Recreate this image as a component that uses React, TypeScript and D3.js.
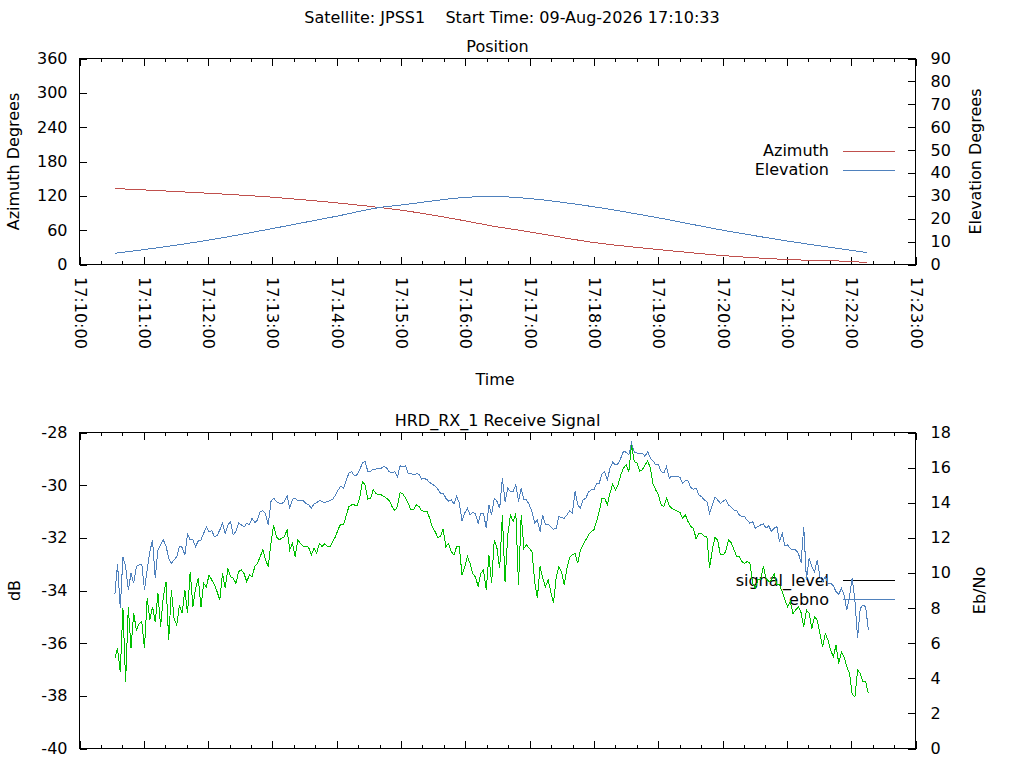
import React from "react";
import * as d3 from "d3";

// ---------- data ----------
const mainTitle = "Satellite: JPSS1    Start Time: 09-Aug-2026 17:10:33";
const topTitle = "Position";
const bottomTitle = "HRD_RX_1 Receive Signal";

// position samples: seconds after 17:10:00
const posSeconds = [33, 60, 120, 180, 240, 280, 300, 360, 383, 420, 480, 540, 600, 660, 720, 735];
const azimuth = [132.8, 130.4, 124.6, 117.6, 107.7, 99.6, 94.9, 76.2, 68, 57, 38.4, 26.2, 15.7, 8.7, 5.2, 3.5];
const elevation = [4.9, 6.5, 10.6, 15.7, 21.1, 24.9, 26.0, 29.3, 29.8, 28.8, 25.2, 20.4, 15.0, 10.3, 6.2, 5.2];

// receive signal samples: uniform sampling from 17:10:33 to 17:22:16
const sigStartSec = 33;
const sigEndSec = 736;

const signalLevel = [
  -36.58, -36.20, -37.11, -34.68, -37.47, -34.62, -36.20, -34.87, -35.50, -35.25,
  -35.19, -36.20, -34.30, -35.12, -34.62, -35.19, -34.11, -35.38, -34.24, -33.67,
  -35.88, -33.98, -35.06, -35.31, -34.55, -34.87, -33.98, -34.87, -33.28, -34.62,
  -33.92, -33.54, -34.62, -33.73, -33.86, -33.41, -33.60, -33.79, -34.05, -34.36,
  -33.35, -33.92, -33.16, -33.47, -33.54, -33.73, -33.28, -33.22, -33.35, -33.67,
  -33.41, -33.47, -33.09, -32.97, -32.71, -32.46, -32.84, -33.09, -32.21, -31.51,
  -31.95, -32.08, -32.02, -31.95, -31.70, -32.46, -32.21, -32.71, -32.08, -32.21,
  -32.33, -32.33, -32.36, -32.65, -32.40, -32.59, -32.21, -32.33, -32.23, -32.33,
  -32.33, -32.14, -31.95, -31.67, -31.47, -31.51, -31.13, -30.81, -30.75, -30.75,
  -30.79, -30.46, -29.86, -29.99, -30.53, -30.50, -30.18, -30.31, -30.37, -30.37,
  -30.43, -30.50, -30.59, -30.81, -30.97, -30.81, -30.28, -30.33, -30.49, -30.69,
  -30.94, -30.94, -30.75, -30.81, -30.97, -31.00, -31.00, -31.26, -31.60, -31.76,
  -31.98, -31.95, -31.67, -32.33, -32.21, -32.52, -32.65, -32.33, -32.33, -33.41,
  -33.10, -32.71, -32.97, -33.37, -33.48, -33.85, -33.35, -33.22, -33.98, -32.65,
  -33.73, -32.08, -32.40, -33.16, -31.13, -33.66, -31.89, -31.13, -31.38, -31.07,
  -33.79, -31.13, -32.40, -32.27, -32.40, -32.52, -33.66, -34.30, -33.09, -33.54,
  -33.86, -33.60, -34.05, -34.49, -33.51, -33.09, -33.29, -33.79, -33.16, -32.75,
  -32.65, -32.59, -32.97, -32.46, -32.27, -32.08, -31.89, -31.76, -31.70, -31.38,
  -31.00, -30.52, -30.49, -30.75, -30.30, -29.96, -30.18, -29.99, -29.61, -29.35,
  -29.23, -29.48, -28.47, -29.10, -29.16, -29.46, -29.42, -29.23, -29.08, -29.35,
  -29.96, -30.18, -30.37, -30.75, -30.81, -30.49, -30.78, -30.88, -30.94, -30.98,
  -31.04, -31.26, -31.13, -31.38, -31.57, -31.64, -32.04, -31.83, -31.83, -31.95,
  -31.95, -33.16, -32.46, -31.98, -32.08, -32.65, -32.65, -32.52, -32.08, -32.18,
  -32.43, -32.69, -32.71, -32.90, -32.97, -32.90, -32.97, -33.73, -33.92, -33.58,
  -33.60, -33.09, -33.54, -33.66, -33.60, -33.35, -33.79, -33.79, -34.05, -34.36,
  -34.62, -34.42, -34.87, -34.74, -34.62, -34.84, -35.38, -34.74, -34.87, -35.44,
  -35.00, -35.12, -35.63, -36.14, -35.63, -35.88, -36.26, -36.52, -36.07, -36.77,
  -36.33, -36.52, -36.90, -37.15, -37.95, -38.04, -37.02, -37.15, -37.45, -37.47,
  -37.90,
];

const ebno = [
  8.78, 10.51, 7.99, 10.93, 10.36, 9.03, 9.98, 9.41, 10.36, 10.46,
  10.51, 9.03, 10.17, 11.22, 11.88, 9.70, 11.31, 11.60, 11.88, 11.54,
  10.84, 10.55, 10.74, 10.93, 11.50, 11.47, 11.03, 12.21, 11.88, 11.88,
  11.50, 11.83, 11.88, 12.26, 12.61, 12.36, 12.41, 12.07, 12.13, 12.45,
  12.84, 12.26, 12.74, 12.93, 12.17, 12.36, 12.84, 12.74, 12.61, 12.84,
  12.74, 13.12, 12.87, 13.02, 13.50, 13.55, 13.37, 12.74, 14.07, 14.26,
  14.07, 13.98, 13.94, 14.07, 14.39, 13.69, 14.20, 14.24, 14.12, 14.12,
  14.12, 13.97, 13.88, 13.69, 13.94, 14.01, 14.12, 14.07, 14.01, 14.07,
  14.12, 14.20, 14.45, 14.73, 14.96, 14.83, 15.31, 15.69, 15.76, 15.53,
  15.59, 15.88, 16.26, 16.35, 15.78, 15.78, 15.92, 15.91, 15.97, 15.97,
  16.06, 15.97, 15.76, 15.72, 15.76, 15.46, 16.10, 16.03, 16.10, 15.69,
  15.69, 15.59, 15.65, 15.63, 15.34, 15.38, 15.31, 15.15, 15.04, 14.96,
  14.77, 14.54, 14.55, 14.26, 14.09, 14.16, 13.94, 14.35, 13.98, 12.99,
  13.41, 13.69, 13.31, 13.44, 13.37, 12.83, 13.41, 13.40, 12.55, 13.88,
  13.31, 14.26, 14.07, 13.69, 15.40, 14.07, 14.83, 14.64, 14.64, 15.02,
  14.07, 14.83, 14.16, 14.16, 13.88, 13.50, 12.84, 13.02, 12.36, 13.31,
  12.74, 12.78, 12.64, 12.49, 12.55, 13.21, 13.15, 13.12, 13.31, 13.54,
  13.41, 14.64, 13.88, 13.69, 14.16, 14.26, 14.60, 14.73, 14.73, 15.08,
  15.12, 15.63, 15.78, 15.30, 15.97, 16.31, 16.16, 16.22, 16.54, 16.92,
  16.88, 16.73, 17.40, 16.88, 16.83, 16.83, 16.83, 16.64, 16.92, 16.54,
  16.39, 16.16, 16.16, 15.78, 15.69, 16.07, 15.40, 15.53, 15.49, 15.49,
  15.44, 15.11, 15.25, 15.25, 14.87, 14.77, 14.83, 14.45, 14.35, 14.16,
  14.07, 13.40, 13.88, 14.32, 14.16, 13.97, 14.07, 14.20, 13.88, 13.75,
  13.59, 13.56, 13.31, 13.21, 13.21, 12.99, 12.83, 12.93, 12.55, 12.64,
  12.74, 12.79, 12.55, 12.68, 12.36, 12.55, 12.64, 11.79, 12.26, 11.54,
  11.60, 11.39, 11.31, 11.31, 11.12, 10.59, 12.64, 9.60, 10.84, 10.36,
  10.07, 10.74, 9.79, 9.51, 9.79, 9.41, 9.41, 9.26, 8.93, 8.78,
  9.13, 8.74, 7.89, 8.65, 9.70, 8.46, 6.27, 7.98, 8.17, 8.08,
  6.75,
];

const azTicks = [0, 60, 120, 180, 240, 300, 360];
const elTicks = [0, 10, 20, 30, 40, 50, 60, 70, 80, 90];
const dbTicks = [-40, -38, -36, -34, -32, -30, -28];
const ebTicks = [0, 2, 4, 6, 8, 10, 12, 14, 16, 18];

// ---------- layout ----------
const W = 1024;
const H = 768;
const FONT = "'DejaVu Sans', Verdana, sans-serif";
const FS = 16;
const L = 79.5;
const R = 915.5;
const TOP = { y0: 58.5, y1: 264.5 };
const BOT = { y0: 432.5, y1: 748.5 };
const MAJ = 7.5;
const MIN = 3.8;

const RED = "#c0504d";
const BLUE = "#4f81bd";
const GREEN = "#00c000";

const base = Date.UTC(2026, 7, 9, 17, 10, 0);
const tAt = (sec: number) => new Date(base + sec * 1000);

const x = d3.scaleUtc().domain([tAt(0), tAt(13 * 60)]).range([L, R]);
const majorTimes = x.ticks(d3.utcMinute.every(1) as any);
const minorTimes = x.ticks(d3.utcSecond.every(20) as any);
const fmt = d3.utcFormat("%H:%M:%S");

const yAz = d3.scaleLinear().domain([0, 360]).range([TOP.y1, TOP.y0]);
const yEl = d3.scaleLinear().domain([0, 90]).range([TOP.y1, TOP.y0]);
const yDb = d3.scaleLinear().domain([-40, -28]).range([BOT.y1, BOT.y0]);
const yEb = d3.scaleLinear().domain([0, 18]).range([BOT.y1, BOT.y0]);

type P = { t: Date; v: number };
const posAz: P[] = posSeconds.map((s, i) => ({ t: tAt(s), v: azimuth[i] }));
const posEl: P[] = posSeconds.map((s, i) => ({ t: tAt(s), v: elevation[i] }));
const sigStep = (sigEndSec - sigStartSec) / (signalLevel.length - 1);
const sigPts: P[] = signalLevel.map((v, i) => ({ t: tAt(sigStartSec + i * sigStep), v }));
const ebPts: P[] = ebno.map((v, i) => ({ t: tAt(sigStartSec + i * sigStep), v }));

const lineOf = (ys: d3.ScaleLinear<number, number>, curve: d3.CurveFactory) =>
  d3
    .line<P>()
    .x((d) => x(d.t))
    .y((d) => ys(d.v))
    .curve(curve);

const textStyle: React.CSSProperties = { fontFamily: FONT, fontSize: FS, whiteSpace: "pre" };

function Frame({ y0, y1, left, right, leftScale, rightScale }: any) {
  return (
    <g stroke="#000" strokeWidth={1} shapeRendering="crispEdges" fill="none">
      <rect x={L} y={y0} width={R - L} height={y1 - y0} />
      {minorTimes.map((t: Date, i: number) => (
        <g key={"mi" + i}>
          <line x1={Math.round(x(t)) + 0.5} x2={Math.round(x(t)) + 0.5} y1={y1} y2={y1 - MIN} />
          <line x1={Math.round(x(t)) + 0.5} x2={Math.round(x(t)) + 0.5} y1={y0} y2={y0 + MIN} />
        </g>
      ))}
      {majorTimes.map((t: Date, i: number) => (
        <g key={"ma" + i}>
          <line x1={Math.round(x(t)) + 0.5} x2={Math.round(x(t)) + 0.5} y1={y1} y2={y1 - MAJ} />
          <line x1={Math.round(x(t)) + 0.5} x2={Math.round(x(t)) + 0.5} y1={y0} y2={y0 + MAJ} />
        </g>
      ))}
      {left.map((v: number, i: number) => (
        <line key={"l" + i} x1={L} x2={L + MAJ} y1={Math.round(leftScale(v)) + 0.5} y2={Math.round(leftScale(v)) + 0.5} />
      ))}
      {right.map((v: number, i: number) => (
        <line key={"r" + i} x1={R} x2={R - MAJ} y1={Math.round(rightScale(v)) + 0.5} y2={Math.round(rightScale(v)) + 0.5} />
      ))}
    </g>
  );
}

function TickLabels({ left, right, leftScale, rightScale }: any) {
  return (
    <g style={textStyle} fill="#000">
      {left.map((v: number, i: number) => (
        <text key={"tl" + i} x={67.5} y={leftScale(v)} textAnchor="end" dominantBaseline="central">
          {v}
        </text>
      ))}
      {right.map((v: number, i: number) => (
        <text key={"tr" + i} x={930.5} y={rightScale(v)} textAnchor="start" dominantBaseline="central">
          {v}
        </text>
      ))}
    </g>
  );
}

function Legend({ items, y }: { items: { label: string; color: string }[]; y: number }) {
  return (
    <g>
      {items.map((it, i) => (
        <g key={it.label}>
          <text x={829} y={y + i * 19} textAnchor="end" dominantBaseline="central" style={textStyle}>
            {it.label}
          </text>
          <line x1={843} x2={895} y1={Math.round(y + i * 19) + 0.5} y2={Math.round(y + i * 19) + 0.5} stroke={it.color} strokeWidth={1} shapeRendering="crispEdges" />
        </g>
      ))}
    </g>
  );
}

export default function App() {
  const azPath = lineOf(yAz, d3.curveMonotoneX)(posAz) || "";
  const elPath = lineOf(yEl, d3.curveMonotoneX)(posEl) || "";
  const sigPath = lineOf(yDb, d3.curveLinear)(sigPts) || "";
  const ebPath = lineOf(yEb, d3.curveLinear)(ebPts) || "";

  return (
    <svg
      width={W}
      height={H}
      viewBox={`0 0 ${W} ${H}`}
      style={{ position: "absolute", left: 0, top: 0, background: "#fff" }}
    >
      <rect x={0} y={0} width={W} height={H} fill="#fff" />
      <text x={512} y={17.5} textAnchor="middle" dominantBaseline="central" style={textStyle} xmlSpace="preserve">
        {mainTitle}
      </text>

      {/* ---- top panel ---- */}
      <text x={(L + R) / 2} y={46.5} textAnchor="middle" dominantBaseline="central" style={textStyle}>
        {topTitle}
      </text>
      <Frame y0={TOP.y0} y1={TOP.y1} left={azTicks} right={elTicks} leftScale={yAz} rightScale={yEl} />
      <TickLabels left={azTicks} right={elTicks} leftScale={yAz} rightScale={yEl} />
      <g style={textStyle}>
        {majorTimes.map((t: Date, i: number) => (
          <text
            key={"xl" + i}
            transform={`translate(${x(t) + 0.5},${277}) rotate(90)`}
            textAnchor="start"
            dominantBaseline="central"
          >
            {fmt(t)}
          </text>
        ))}
      </g>
      <text x={495} y={379} textAnchor="middle" dominantBaseline="central" style={textStyle}>
        Time
      </text>
      <text transform={`translate(13,161.5) rotate(-90)`} textAnchor="middle" dominantBaseline="central" style={textStyle}>
        Azimuth Degrees
      </text>
      <text transform={`translate(975,161.5) rotate(-90)`} textAnchor="middle" dominantBaseline="central" style={textStyle}>
        Elevation Degrees
      </text>
      <Legend items={[{ label: "Azimuth", color: RED }, { label: "Elevation", color: BLUE }]} y={150.5} />
      <path d={azPath} fill="none" stroke={RED} strokeWidth={1} shapeRendering="crispEdges" />
      <path d={elPath} fill="none" stroke={BLUE} strokeWidth={1} shapeRendering="crispEdges" />

      {/* ---- bottom panel ---- */}
      <text x={(L + R) / 2} y={420} textAnchor="middle" dominantBaseline="central" style={textStyle}>
        {bottomTitle}
      </text>
      <Frame y0={BOT.y0} y1={BOT.y1} left={dbTicks} right={ebTicks} leftScale={yDb} rightScale={yEb} />
      <TickLabels left={dbTicks} right={ebTicks} leftScale={yDb} rightScale={yEb} />
      <text transform={`translate(14,590.5) rotate(-90)`} textAnchor="middle" dominantBaseline="central" style={textStyle}>
        dB
      </text>
      <text transform={`translate(979,590.5) rotate(-90)`} textAnchor="middle" dominantBaseline="central" style={textStyle}>
        Eb/No
      </text>
      <Legend items={[{ label: "signal_level", color: "#000" }, { label: "ebno", color: BLUE }]} y={580} />
      <path d={sigPath} fill="none" stroke={GREEN} strokeWidth={1} shapeRendering="crispEdges" />
      <path d={ebPath} fill="none" stroke={BLUE} strokeWidth={1} shapeRendering="crispEdges" />
    </svg>
  );
}
